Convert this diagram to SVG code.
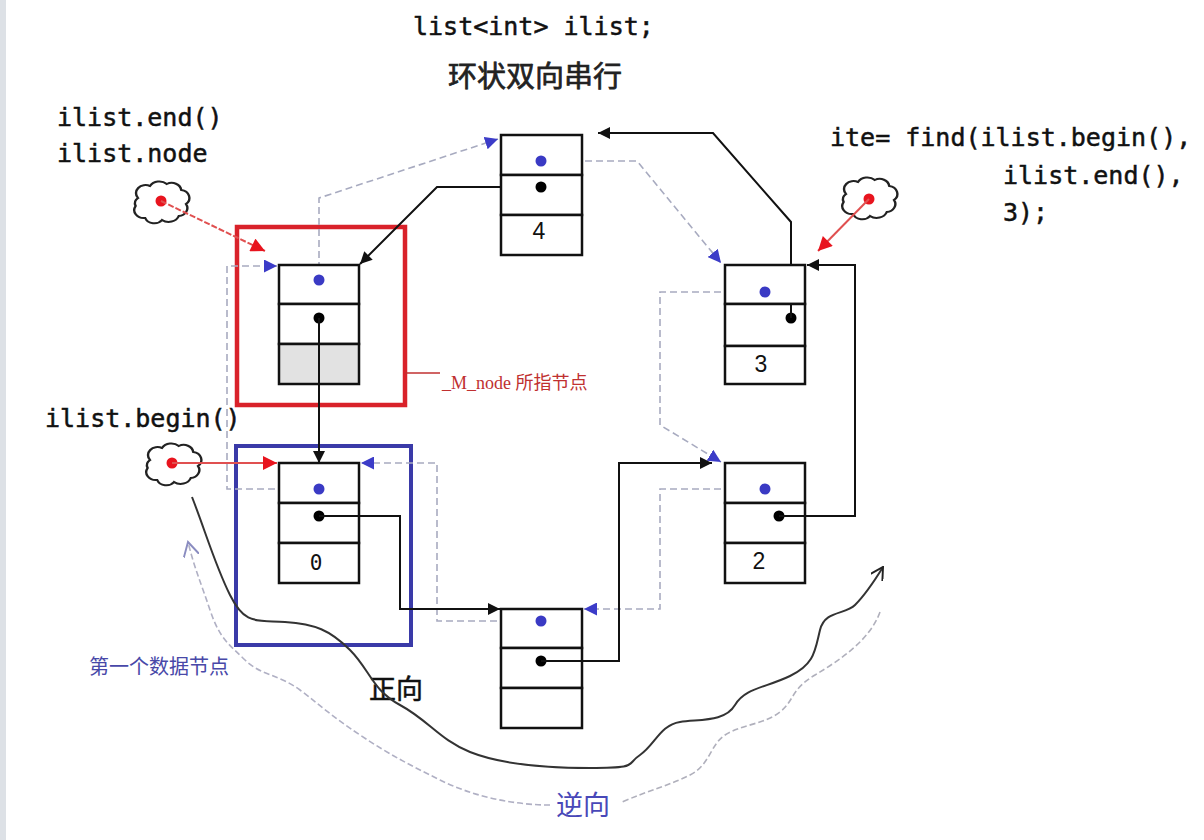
<svg xmlns="http://www.w3.org/2000/svg" width="1204" height="840" viewBox="0 0 1204 840">
<style>
.cell{fill:#fff;stroke:#111;stroke-width:2.5}
.gray{fill:#e2e2e2;stroke:#111;stroke-width:2.5}
.bdot{fill:#3a3ac4}
.kdot{fill:#000}
.rdot{fill:#e8141e}
.next{fill:none;stroke:#111;stroke-width:2}
.prev{fill:none;stroke:#a8abc0;stroke-width:1.6;stroke-dasharray:7,4}
.red{fill:none;stroke:#e05050;stroke-width:2;stroke-dasharray:6,2}
.cloud{fill:#fff;stroke:#222;stroke-width:2}
.code{font-family:"DejaVu Sans Mono","Liberation Mono",monospace;font-size:25px;fill:#111;stroke:#111;stroke-width:0.5}
.num{font-family:"Liberation Sans","Noto Sans",sans-serif;font-size:23px;fill:#111;text-anchor:middle}
.cjk{font-family:"Noto Sans CJK SC","Noto Sans",sans-serif}
</style>
<defs>
<marker id="ak" viewBox="0 0 10 10" refX="10" refY="5" markerWidth="14" markerHeight="12" markerUnits="userSpaceOnUse" orient="auto"><path d="M0,0 L10,5 L0,10 z" fill="#111"/></marker>
<marker id="ab" viewBox="0 0 10 10" refX="10" refY="5" markerWidth="13" markerHeight="13" markerUnits="userSpaceOnUse" orient="auto"><path d="M0,0 L10,5 L0,10 z" fill="#3c3cc8"/></marker>
<marker id="ar" viewBox="0 0 10 10" refX="10" refY="5" markerWidth="15" markerHeight="14" markerUnits="userSpaceOnUse" orient="auto"><path d="M0,0 L10,5 L0,10 z" fill="#e8141e"/></marker>
<marker id="ok" viewBox="0 0 10 10" refX="9" refY="5" markerWidth="14" markerHeight="14" markerUnits="userSpaceOnUse" orient="auto"><path d="M0,0 L9,5 L0,10" fill="none" stroke="#222" stroke-width="1.4"/></marker>
<marker id="og" viewBox="0 0 10 10" refX="9" refY="5" markerWidth="16" markerHeight="16" markerUnits="userSpaceOnUse" orient="auto"><path d="M0,0 L9,5 L0,10" fill="none" stroke="#8a8cc0" stroke-width="1.2"/></marker>
<path id="cloudp" d="M-20,-8 a8,8 0 0 1 10,-12 a9,9 0 0 1 14,-2 a8,8 0 0 1 12,6 a8,8 0 0 1 4,14 a8,8 0 0 1 -6,12 a9,9 0 0 1 -14,4 a8,8 0 0 1 -14,-2 a8,8 0 0 1 -8,-12 a7,7 0 0 1 2,-8 z"/>
</defs>
<rect x="0" y="0" width="1204" height="840" fill="#fff"/>
<rect x="0" y="0" width="6" height="840" fill="#dde1e6"/>

<g id="title">
<text class="code" x="413" y="35">list&lt;int&gt; ilist;</text>
<text class="cjk" x="448" y="87" font-size="29" fill="#222" stroke="#222" stroke-width="0.7">环状双向串行</text>
</g>

<g id="labels">
<text class="code" x="57" y="126">ilist.end()</text>
<text class="code" x="57" y="162">ilist.node</text>
<text class="code" x="45" y="427">ilist.begin()</text>
<text class="code" x="830" y="146">ite= find(ilist.begin(),</text>
<text class="code" x="1003" y="184">ilist.end(),</text>
<text class="code" x="1003" y="221">3);</text>
<text class="cjk" x="89" y="674" font-size="20" fill="#4848a8">第一个数据节点</text>
<text class="cjk" x="369" y="699" font-size="27" fill="#111" stroke="#111" stroke-width="0.5">正向</text>
<text class="cjk" x="556" y="815" font-size="27" fill="#4848b8">逆向</text>
<text x="442" y="389" font-family="'Liberation Serif','Noto Sans CJK SC',serif" font-size="18" fill="#c03030">_M_node <tspan class="cjk">所指节点</tspan></text>
</g>

<g id="boxes">
<rect x="237" y="227" width="168" height="178" fill="none" stroke="#d9222a" stroke-width="4.5"/>
<line x1="405" y1="373" x2="440" y2="373" stroke="#c03030" stroke-width="1.5"/>
<rect x="236" y="446" width="175" height="199" fill="none" stroke="#3a3aa8" stroke-width="4"/>
</g>

<g id="clouds">
<g id="cloud-end"><use href="#cloudp" class="cloud" transform="translate(162,206) scale(1.2,1.0)"/><circle class="rdot" cx="161" cy="201" r="5.5"/></g>
<g id="cloud-begin"><use href="#cloudp" class="cloud" transform="translate(174,468) scale(1.2,1.0)"/><circle class="rdot" cx="172" cy="463" r="5.5"/></g>
<g id="cloud-ite"><use href="#cloudp" class="cloud" transform="translate(870,202) scale(1.2,1.0)"/><circle class="rdot" cx="869" cy="199" r="5.5"/></g>
</g>

<g id="connectors">
<path class="prev" d="M319,280 L319,198 L498,139" marker-end="url(#ab)"/>
<path class="prev" d="M541,161 L637,161 L721,263" marker-end="url(#ab)"/>
<path class="prev" d="M765,292 L660,292 L660,425 L721,462" marker-end="url(#ab)"/>
<path class="prev" d="M765,489 L660,489 L660,609 L584,609" marker-end="url(#ab)"/>
<path class="prev" d="M541,621 L437,621 L437,463 L361,463" marker-end="url(#ab)"/>
<path class="prev" d="M319,489 L227,489 L227,266 L277,266" marker-end="url(#ab)"/>
<path class="next" d="M319,318 L319,463" marker-end="url(#ak)"/>
<path class="next" d="M319,516 L400,516 L400,609 L500,609" marker-end="url(#ak)"/>
<path class="next" d="M541,661 L619,661 L619,463 L712,463" marker-end="url(#ak)"/>
<path class="next" d="M779,516 L855,516 L855,265 L807,265" marker-end="url(#ak)"/>
<path class="next" d="M791,318 L791,222 L713,133 L598,133" marker-end="url(#ak)"/>
<path class="next" d="M541,187 L437,187 L360,264" marker-end="url(#ak)"/>
<path class="red" d="M161,201 L265,251" marker-end="url(#ar)"/>
<path d="M172,463 L277,463" fill="none" stroke="#e05050" stroke-width="2" marker-end="url(#ar)"/>
<path d="M869,199 L818,251" fill="none" stroke="#e05050" stroke-width="2" marker-end="url(#ar)"/>
<path d="M192,497 C205,530 215,565 230,595 S255,620 285,622 S330,630 350,650 S372,690 400,705 S440,740 470,752 S540,768 590,768 S625,765 640,755 S660,725 680,722 S725,722 735,705 S765,688 790,676 S815,650 820,630 S845,615 855,605 S875,580 883,567" fill="none" stroke="#333" stroke-width="2" marker-end="url(#ok)"/>
<path d="M880,612 C870,640 840,660 815,675 S795,700 780,712 S740,725 725,735 S710,765 690,775 S650,790 622,802" fill="none" stroke="#b0b0bc" stroke-width="1.6" stroke-dasharray="6,3"/>
<path d="M550,805 C510,805 470,795 440,780 S390,755 360,735 S320,705 300,690 S260,675 245,660 S220,640 210,610 S195,570 188,542" fill="none" stroke="#b0b0c4" stroke-width="1.6" stroke-dasharray="6,3" marker-end="url(#og)"/>
</g>

<g id="node-header">
<rect class="cell" x="279" y="265" width="80" height="39"/>
<rect class="cell" x="279" y="304" width="80" height="40"/>
<rect class="gray" x="279" y="344" width="80" height="40"/>
<circle class="bdot" cx="319" cy="280" r="5.5"/>
<circle class="kdot" cx="319" cy="318" r="5.5"/>
<line x1="319" y1="318" x2="319" y2="384" stroke="#111" stroke-width="2"/>
</g>

<g id="node-4">
<rect class="cell" x="501" y="135" width="81" height="40"/>
<rect class="cell" x="501" y="175" width="81" height="40"/>
<rect class="cell" x="501" y="215" width="81" height="40"/>
<circle class="bdot" cx="541" cy="161" r="5.5"/>
<circle class="kdot" cx="541" cy="187" r="5.5"/>
<text class="num" x="539" y="239">4</text>
</g>

<g id="node-3">
<rect class="cell" x="725" y="265" width="80" height="39"/>
<rect class="cell" x="725" y="304" width="80" height="42"/>
<rect class="cell" x="725" y="346" width="80" height="38"/>
<circle class="bdot" cx="765" cy="292" r="5.5"/>
<circle class="kdot" cx="791" cy="318" r="5.5"/>
<line x1="791" y1="318" x2="791" y2="304" stroke="#111" stroke-width="2"/>
<text class="num" x="761" y="372">3</text>
</g>

<g id="node-2">
<rect class="cell" x="725" y="463" width="80" height="40"/>
<rect class="cell" x="725" y="503" width="80" height="40"/>
<rect class="cell" x="725" y="543" width="80" height="40"/>
<circle class="bdot" cx="765" cy="489" r="5.5"/>
<circle class="kdot" cx="779" cy="516" r="5.5"/>
<line x1="779" y1="516" x2="805" y2="516" stroke="#111" stroke-width="2"/>
<text class="num" x="759" y="569">2</text>
</g>

<g id="node-0">
<rect class="cell" x="279" y="463" width="80" height="40"/>
<rect class="cell" x="279" y="503" width="80" height="40"/>
<rect class="cell" x="279" y="543" width="80" height="40"/>
<circle class="bdot" cx="319" cy="489" r="5.5"/>
<circle class="kdot" cx="319" cy="516" r="5.5"/>
<line x1="319" y1="516" x2="359" y2="516" stroke="#111" stroke-width="2"/>
<text x="316" y="570" font-family="'DejaVu Sans Mono','Liberation Mono',monospace" font-size="21" fill="#111" text-anchor="middle">0</text>
</g>

<g id="node-1">
<rect class="cell" x="501" y="609" width="81" height="39"/>
<rect class="cell" x="501" y="648" width="81" height="40"/>
<rect class="cell" x="501" y="688" width="81" height="40"/>
<circle class="bdot" cx="541" cy="621" r="5.5"/>
<circle class="kdot" cx="541" cy="661" r="5.5"/>
<line x1="541" y1="661" x2="582" y2="661" stroke="#111" stroke-width="2"/>
</g>
</svg>
